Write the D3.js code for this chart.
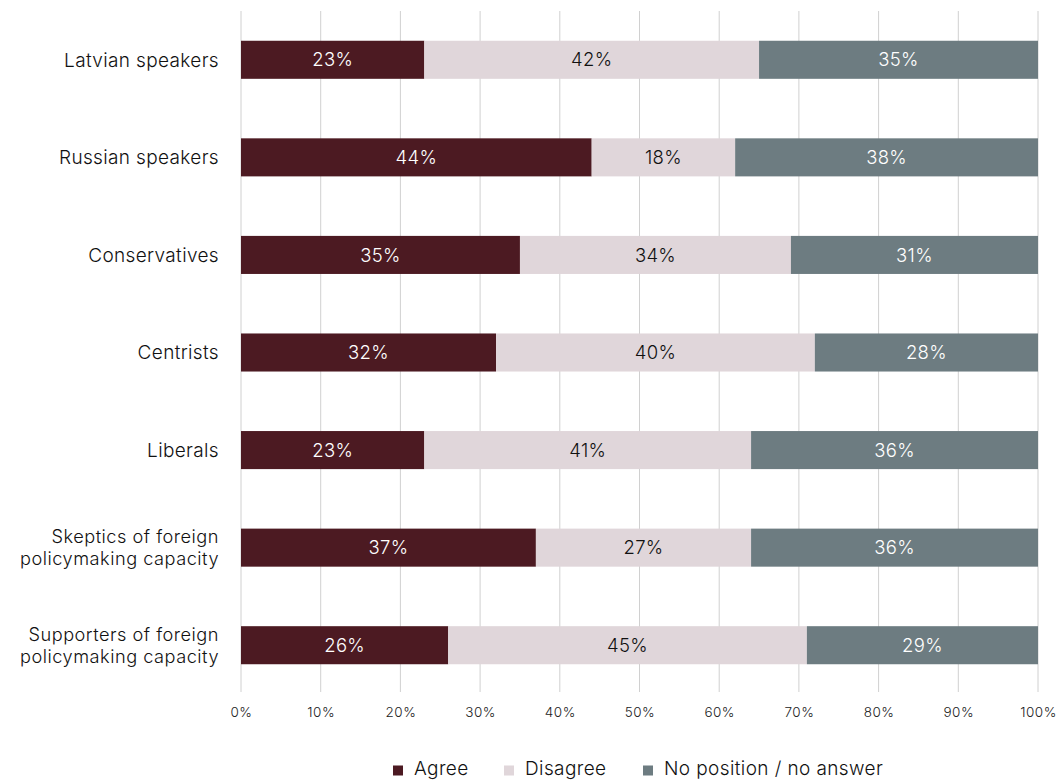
<!DOCTYPE html>
<html>
<head>
<meta charset="utf-8">
<script src="https://cdn.jsdelivr.net/npm/d3@7"></script>
<style>
  body { margin: 0; background: #fff; }
  svg { display: block; font-family: Inter, "Noto Sans", sans-serif; font-weight: 350; }
</style>
</head>
<body>
<svg id="chart" width="1060" height="780"></svg>
<script>
// Survey groups (top to bottom); multi-line labels split on "\n"
const categories = [
  "Latvian speakers",
  "Russian speakers",
  "Conservatives",
  "Centrists",
  "Liberals",
  "Skeptics of foreign\npolicymaking capacity",
  "Supporters of foreign\npolicymaking capacity"
];
const agree     = [23, 44, 35, 32, 23, 37, 26];
const disagree  = [42, 18, 34, 40, 41, 27, 45];
const noAnswer  = [35, 38, 31, 28, 36, 36, 29];
const seriesNames = ["Agree", "Disagree", "No position / no answer"];
const seriesColors = ["#4c1a22", "#e0d6da", "#6d7c81"];
const labelColors = ["#ffffff", "#111111", "#ffffff"];
const tickValues = [0, 10, 20, 30, 40, 50, 60, 70, 80, 90, 100];

const svg = d3.select("#chart");
const margin = { left: 241, right: 22, top: 11, bottom: 86 };
const width = 1060, height = 780;

const x = d3.scaleLinear().domain([0, 100]).range([margin.left, width - margin.right]);
const y = d3.scaleBand().domain(categories).range([margin.top, height - margin.bottom]).paddingInner(0.61).paddingOuter(0.305);

// vertical grid lines
svg.append("g")
  .selectAll("line")
  .data(tickValues)
  .join("line")
  .attr("x1", d => x(d)).attr("x2", d => x(d))
  .attr("y1", margin.top).attr("y2", 692)
  .attr("stroke", "#d0d0d0").attr("stroke-width", 1);

// bottom tick labels
const xAxis = d3.axisBottom(x).tickValues(tickValues).tickFormat(d => d + "%").tickSize(0).tickPadding(0);
const gx = svg.append("g").attr("transform", "translate(0,707)").call(xAxis);
gx.select(".domain").remove();
gx.selectAll("text")
  .attr("font-size", 13.5)
  .attr("letter-spacing", "0.5px")
  .attr("fill", "#222")
  .attr("font-family", "Inter, sans-serif")
  .attr("font-weight", 350);

// stacked series
const rows = categories.map((c, i) => ({ cat: c, v: [agree[i], disagree[i], noAnswer[i]] }));
const g = svg.append("g");
rows.forEach(r => {
  let acc = 0;
  r.v.forEach((v, k) => {
    const x0 = acc, x1 = acc + v;
    acc = x1;
    g.append("rect")
      .attr("x", x(x0)).attr("width", x(x1) - x(x0))
      .attr("y", y(r.cat)).attr("height", y.bandwidth())
      .attr("fill", seriesColors[k]);
    g.append("text")
      .attr("x", (x(x0) + x(x1)) / 2)
      .attr("y", y(r.cat) + y.bandwidth() / 2)
      .attr("dy", "0.36em")
      .attr("text-anchor", "middle")
      .attr("font-size", 18.5)
      .attr("letter-spacing", "0.3px")
      .attr("fill", labelColors[k])
      .text(v + "%");
  });
});

// category labels (one text element per line)
const cg = svg.append("g");
categories.forEach(c => {
  const lines = c.split("\n");
  const cy = y(c) + y.bandwidth() / 2;
  lines.forEach((ln, i) => {
    cg.append("text")
      .attr("x", 219)
      .attr("y", cy + (i - (lines.length - 1) / 2) * 22)
      .attr("dy", "0.36em")
      .attr("text-anchor", "end")
      .attr("font-size", (lines.length > 1) ? 18.2 : 19)
      .attr("letter-spacing", (lines.length > 1) ? "0.5px" : "0.35px")
      .attr("fill", "#111")
      .text(ln);
  });
});

// legend
const legendX = [393, 504, 643];
const lg = svg.append("g");
seriesNames.forEach((n, k) => {
  lg.append("rect")
    .attr("x", legendX[k]).attr("y", 765.5)
    .attr("width", 10).attr("height", 10)
    .attr("fill", seriesColors[k]);
  lg.append("text")
    .attr("x", legendX[k] + 21).attr("y", 768)
    .attr("dy", "0.36em")
    .attr("font-size", 19)
    .attr("letter-spacing", "0.4px")
    .attr("fill", "#111")
    .text(n);
});
</script>
</body>
</html>
